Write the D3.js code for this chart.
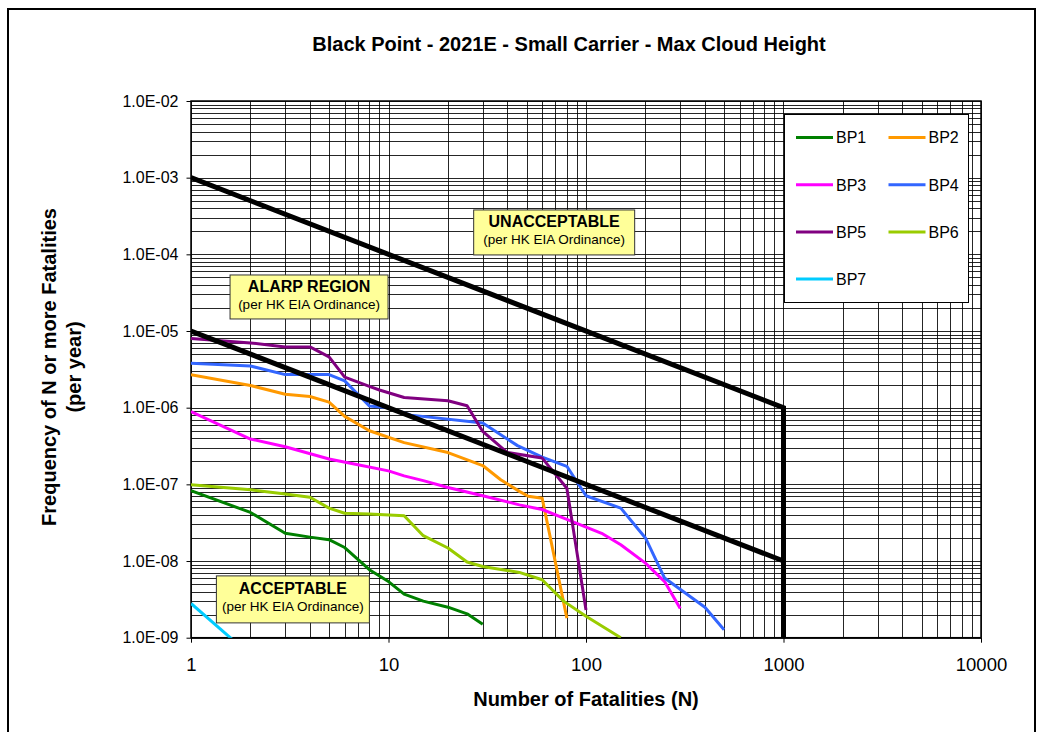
<!DOCTYPE html>
<html><head><meta charset="utf-8">
<script src="https://cdn.jsdelivr.net/npm/d3@7"></script>
<style>
body{margin:0;background:#fff;}
svg{display:block;font-family:Arial,"Liberation Sans",sans-serif;}
</style></head>
<body>
<svg id="chart" width="1044" height="732"></svg>
<script>
const title = "Black Point - 2021E - Small Carrier - Max Cloud Height";
const xTitle = "Number of Fatalities (N)";
const yTitle1 = "Frequency of N or more Fatalities";
const yTitle2 = "(per year)";
const xTicks = [1, 10, 100, 1000, 10000];
const yTicks = [1e-9, 1e-8, 1e-7, 1e-6, 1e-5, 1e-4, 1e-3, 1e-2];

const seriesNames = ["BP1","BP2","BP3","BP4","BP5","BP6","BP7"];
const seriesColors = ["#008000","#FF9900","#FF00FF","#3366FF","#800080","#99CC00","#00CCFF"];
const BP1 = [[1,8.3e-8],[2,4.3e-8],[3,2.3e-8],[4,2.05e-8],[5,1.9e-8],[6,1.5e-8],[8,7.7e-9],[10,5.4e-9],[12,3.7e-9],[15,3.0e-9],[20,2.5e-9],[25,2.05e-9],[30,1.5e-9]];
const BP2 = [[1,2.7e-6],[2,1.95e-6],[3,1.5e-6],[4,1.4e-6],[5,1.18e-6],[6,7.7e-7],[8,5.0e-7],[12,3.5e-7],[20,2.6e-7],[30,1.76e-7],[37,1.15e-7],[46,8.1e-8],[51,7.0e-8],[60,6.6e-8],[80,1.8e-9]];
const BP3 = [[1,8.9e-7],[2,3.9e-7],[3,3.1e-7],[5,2.14e-7],[7,1.8e-7],[10,1.5e-7],[12,1.29e-7],[15,1.12e-7],[20,9.1e-8],[30,7.1e-8],[46,5.4e-8],[60,4.7e-8],[80,3.5e-8],[120,2.3e-8],[150,1.63e-8],[200,9.4e-9],[250,5.4e-9],[300,2.4e-9]];
const BP4 = [[1,3.8e-6],[2,3.5e-6],[3,2.7e-6],[5,2.7e-6],[6,2.24e-6],[8,1.05e-6],[10,1.0e-6],[13,8.0e-7],[30,6.3e-7],[45,3.2e-7],[60,2.26e-7],[80,1.72e-7],[100,7.1e-8],[150,4.9e-8],[200,2.0e-8],[250,6.0e-9],[400,2.5e-9],[500,1.27e-9]];
const BP5 = [[1,8.0e-6],[2,7.0e-6],[3,6.2e-6],[4,6.2e-6],[5,4.6e-6],[6,2.5e-6],[8,1.9e-6],[9,1.7e-6],[12,1.36e-6],[20,1.23e-6],[25,1.06e-6],[30,4.9e-7],[40,2.6e-7],[60,2.2e-7],[80,8.9e-8],[100,2.3e-9]];
const BP6 = [[1,9.9e-8],[2,8.5e-8],[3,7.5e-8],[4,6.8e-8],[5,4.9e-8],[6,4.2e-8],[8,4.1e-8],[12,3.9e-8],[15,2.14e-8],[20,1.48e-8],[25,9.7e-9],[30,8.5e-9],[46,7.1e-9],[60,5.7e-9],[77,3.0e-9],[100,1.9e-9],[150,1.0e-9]];
const BP7 = [[1,2.8e-9],[2,5.9e-10]];
const seriesData = [BP1,BP2,BP3,BP4,BP5,BP6,BP7];

const upperCriterion = [[1,1e-3],[1000,1e-6],[1000,1e-9]];
const lowerCriterion = [[1,1e-5],[1000,1e-8]];

const regionTitles = ["UNACCEPTABLE","ALARP REGION","ACCEPTABLE"];
const regionSub = "(per HK EIA Ordinance)";
const regionN = [69, 3.96, 3.28];
const regionF = [1.93e-4, 2.78e-5, 3.16e-9];

const svg = d3.select("#chart");
const L = 191, R = 981, T = 101, B = 637.7;
const x = d3.scaleLog().domain([1,10000]).range([L,R]);
const y = d3.scaleLog().domain([1e-9,1e-2]).range([B,T]);

// outer frame
svg.append("rect").attr("x",8).attr("y",9).attr("width",1027).attr("height",740)
  .attr("fill","#fff").attr("stroke","#000").attr("stroke-width",2);

// title
svg.append("text").attr("x",569).attr("y",51).attr("text-anchor","middle")
  .attr("font-size",20).attr("font-weight","bold").text(title);

// grid
const g = svg.append("g");
const xGrid = [];
for (let d=1; d<10000; d*=10) for (let k=1;k<10;k++) xGrid.push(d*k);
xGrid.push(10000);
const yGrid = [];
for (let d=1e-9; d<1e-2*0.999; d*=10) for (let k=1;k<10;k++) yGrid.push(d*k);
yGrid.push(1e-2);
g.selectAll("line.vg").data(xGrid).join("line").attr("class","vg")
  .attr("x1",d=>Math.round(x(d))+0.5).attr("x2",d=>Math.round(x(d))+0.5).attr("y1",T).attr("y2",B)
  .attr("stroke","#000").attr("stroke-width",1).attr("stroke-opacity",0.85);
g.selectAll("line.hg").data(yGrid).join("line").attr("class","hg")
  .attr("y1",d=>Math.round(y(d))+0.5).attr("y2",d=>Math.round(y(d))+0.5).attr("x1",L).attr("x2",R)
  .attr("stroke","#000").attr("stroke-width",1).attr("stroke-opacity",0.85);

// axes
const xAxis = d3.axisBottom(x).tickValues(xTicks).tickFormat(d3.format("d")).tickSize(5).tickPadding(15);
const yAxis = d3.axisLeft(y).tickValues(yTicks).tickFormat(d=>{
  const e = Math.round(Math.log10(d));
  return "1.0E" + (e<0?"-":"+") + String(Math.abs(e)).padStart(2,"0");
}).tickSize(4.5).tickPadding(8);
const gx = svg.append("g").attr("transform",`translate(0,${B})`).call(xAxis);
const gy = svg.append("g").attr("transform",`translate(${L},0)`).call(yAxis);
gx.selectAll("text").attr("font-size",18.5);
gy.selectAll("text").attr("font-size",16);
[gx,gy].forEach(a=>{
  a.selectAll("text").attr("fill","#000").attr("font-family","Arial,'Liberation Sans',sans-serif");
  a.selectAll("line").attr("stroke","#000");
  a.select(".domain").remove();
});
svg.append("rect").attr("x",L).attr("y",T).attr("width",R-L).attr("height",B-T)
  .attr("fill","none").attr("stroke","#000").attr("stroke-width",1.5);

// axis titles
svg.append("text").attr("x",586).attr("y",706).attr("text-anchor","middle")
  .attr("font-size",20).attr("font-weight","bold").text(xTitle);
const yt = svg.append("text").attr("transform","translate(56,367) rotate(-90)")
  .attr("text-anchor","middle").attr("font-size",20).attr("font-weight","bold");
yt.append("tspan").attr("x",0).attr("y",0).text(yTitle1);
yt.append("tspan").attr("x",0).attr("y",25).text(yTitle2);

// clip
svg.append("clipPath").attr("id","clip").append("rect").attr("x",L).attr("y",T).attr("width",R-L).attr("height",B-T);
const line = d3.line().x(d=>x(d[0])).y(d=>y(d[1]));
const plot = svg.append("g").attr("clip-path","url(#clip)");

plot.selectAll("path.s").data(seriesData).join("path").attr("class","s")
  .attr("d",line).attr("fill","none")
  .attr("stroke",(d,i)=>seriesColors[i]).attr("stroke-width",3).attr("stroke-linejoin","round");

plot.append("path").attr("d",line(upperCriterion)).attr("fill","none").attr("stroke","#000").attr("stroke-width",5);
plot.append("path").attr("d",line(lowerCriterion)).attr("fill","none").attr("stroke","#000").attr("stroke-width",5);

// region labels
const boxW = [161,158,153], boxH = [45,44,47];
regionTitles.forEach((t,i)=>{
  const cx = x(regionN[i]), cy = y(regionF[i]);
  const grp = svg.append("g");
  grp.append("rect").attr("x",cx-boxW[i]/2).attr("y",cy-boxH[i]/2).attr("width",boxW[i]).attr("height",boxH[i])
    .attr("fill","#FFFF99").attr("stroke","#333").attr("stroke-width",1);
  grp.append("text").attr("x",cx).attr("y",cy-5).attr("text-anchor","middle")
    .attr("font-size",16).attr("font-weight","bold").text(t);
  grp.append("text").attr("x",cx).attr("y",cy+12).attr("text-anchor","middle")
    .attr("font-size",13.5).text(regionSub);
});

// legend
const lg = svg.append("g");
lg.append("rect").attr("x",784.5).attr("y",114.5).attr("width",184).attr("height",188)
  .attr("fill","#fff").attr("stroke","#000").attr("stroke-width",1);
seriesNames.forEach((n,i)=>{
  const col = i%2, row = Math.floor(i/2);
  const lx = 796 + col*92.5, ly = 137.5 + row*47.2;
  lg.append("line").attr("x1",lx).attr("x2",lx+37).attr("y1",ly).attr("y2",ly)
    .attr("stroke",seriesColors[i]).attr("stroke-width",3);
  lg.append("text").attr("x",lx+40).attr("y",ly+5.8).attr("font-size",16).text(n);
});
</script>
</body></html>
